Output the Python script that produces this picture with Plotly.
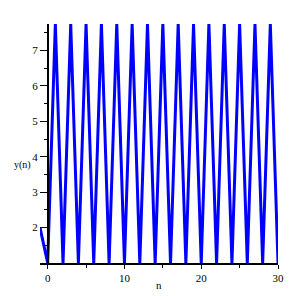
import plotly.graph_objects as go

n_vals = [-1, 0, 1, 2, 3, 4, 5, 6, 7, 8, 9, 10, 11, 12, 13, 14, 15, 16, 17, 18, 19, 20,
          21, 22, 23, 24, 25, 26, 27, 28, 29, 30]
y_vals = [2.0, 1.0, 7.75, 1.0, 7.75, 1.0, 7.75, 1.0, 7.75, 1.0, 7.75, 1.0, 7.75, 1.0,
          7.75, 1.0, 7.75, 1.0, 7.75, 1.0, 7.75, 1.0, 7.75, 1.0, 7.75, 1.0, 7.75, 1.0,
          7.75, 1.0, 7.75, 1.0]
x_ticks = [0, 10, 20, 30]
y_ticks = [2, 3, 4, 5, 6, 7]

fig = go.Figure()
fig.add_trace(go.Scatter(x=n_vals, y=y_vals, mode="lines",
                         line=dict(color="#0000FF", width=3), hoverinfo="skip"))

x_min, x_max = -1, 30
L, R, T, B = 40, 18, 24, 30
W = H = 296
pw, ph = W - L - R, H - T - B

fig.update_layout(
    width=W, height=H,
    margin=dict(l=L, r=R, t=T, b=B),
    paper_bgcolor="white", plot_bgcolor="white",
    showlegend=False,
    font=dict(family="Liberation Serif", size=11, color="black"),
    xaxis=dict(range=[x_min, x_max], tickvals=x_ticks, showgrid=False, zeroline=False,
               showline=True, linecolor="black", linewidth=1.5,
               ticks="outside", ticklen=4, tickcolor="black",
               minor=dict(dtick=5, tick0=0, ticks="outside", ticklen=3, tickcolor="black", showgrid=False),
               domain=[0, 1]),
    yaxis=dict(range=[1, 7.75], tickvals=y_ticks, showgrid=False, zeroline=False,
               showline=True, linecolor="black", linewidth=1.5,
               ticks="outside", ticklen=7, tickcolor="black",
               minor=dict(dtick=0.5, tick0=0, ticks="outside", ticklen=3, tickcolor="black", showgrid=False),
               anchor="free", position=(0 - x_min) / (x_max - x_min)),
    annotations=[
        dict(text="y(n)", x=0, xshift=-(L - 33), xanchor="right",
             y=0, yshift=-(165 - (H - B)) - 3, yanchor="middle", xref="paper", yref="paper",
             showarrow=False, font=dict(size=10)),
        dict(text="n", x=(159 - L) / pw, y=0, yshift=-(288 - (H - B)) - 0, yanchor="middle",
             xref="paper", yref="paper", showarrow=False, font=dict(size=11)),
    ],
)

fig.write_html("out.html", post_script="document.body.style.margin='0px';",
               config={"displayModeBar": False})
